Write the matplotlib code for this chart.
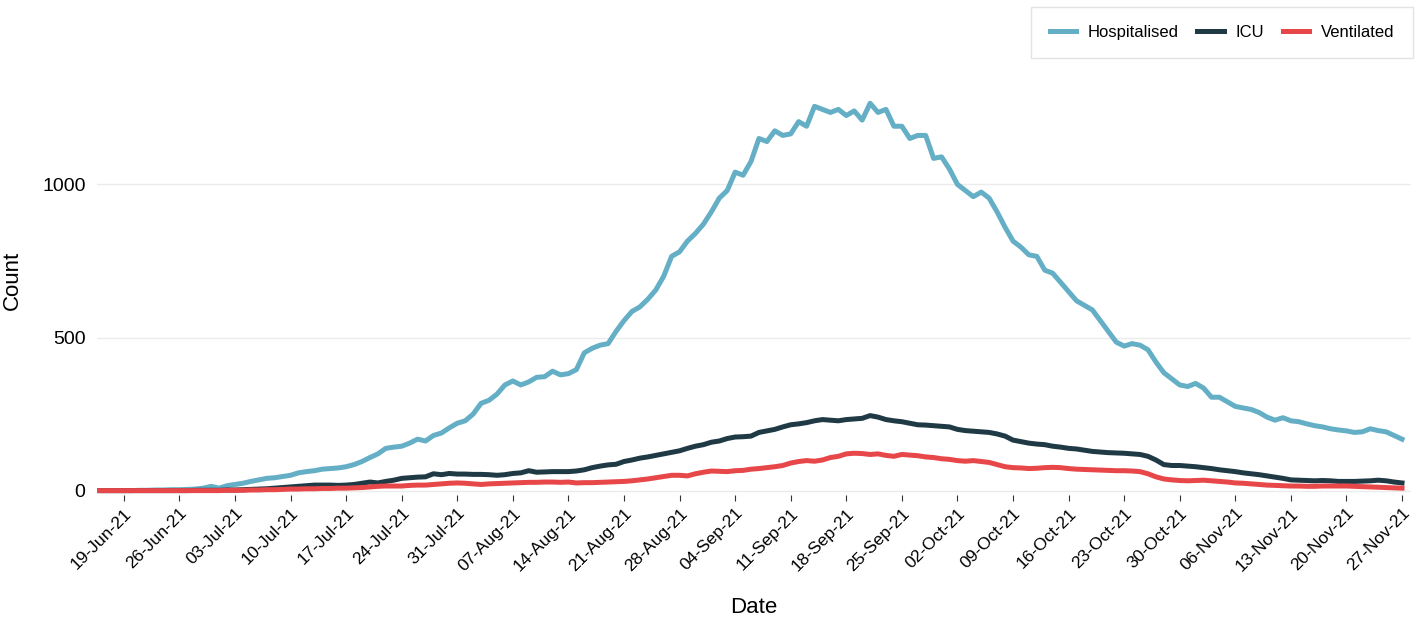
import matplotlib
matplotlib.use("Agg")
import matplotlib.pyplot as plt
import matplotlib.dates as mdates
import numpy as np
import pandas as pd

plt.rcParams['font.family'] = ['Liberation Sans', 'DejaVu Sans']

dates = pd.date_range("2021-06-16", "2021-11-27", freq="D")

hospitalised = [
    0, 0, 0,
    0, 0, 1, 1, 2, 2, 3,
    3, 4, 5, 8, 14, 8, 16,
    20, 24, 30, 35, 40, 42, 46,
    50, 58, 62, 65, 70, 72, 74,
    78, 85, 95, 108, 120, 138, 142,
    145, 155, 168, 162, 180, 188, 205,
    220, 228, 250, 285, 295, 315, 345,
    358, 345, 355, 370, 372, 390, 378,
    382, 395, 450, 465, 475, 480, 520,
    555, 585, 600, 625, 655, 700, 765,
    780, 815, 840, 870, 910, 955, 980,
    1040, 1030, 1075, 1150, 1140, 1175, 1160,
    1165, 1205, 1190, 1255, 1245, 1235, 1245,
    1225, 1240, 1210, 1265, 1235, 1245, 1190,
    1190, 1150, 1160, 1160, 1085, 1090, 1050,
    1000, 980, 960, 975, 955, 910, 860,
    815, 795, 770, 765, 720, 710, 680,
    650, 620, 605, 590, 555, 520, 485,
    472, 480, 475, 460, 420, 385, 365,
    345, 340, 350, 335, 305, 305, 290,
    275, 270, 265, 255, 240, 230, 238,
    228, 225, 218, 212, 208, 202, 198,
    195, 190, 192, 202, 196, 192, 180,
    168,
]

icu = [
    0, 0, 0,
    0, 0, 0, 0, 0, 0, 0,
    0, 0, 1, 1, 1, 1, 2,
    2, 3, 4, 5, 6, 8, 10,
    12, 14, 16, 18, 18, 18, 17,
    18, 20, 24, 28, 25, 30, 34,
    40, 42, 44, 45, 55, 52, 56,
    54, 54, 53, 53, 52, 50, 52,
    56, 58, 65, 60, 61, 62, 62,
    62, 64, 68, 75, 80, 84, 86,
    95, 100, 106, 110, 115, 120, 125,
    130, 138, 145, 150, 158, 162, 170,
    175, 176, 178, 190, 195, 200, 208,
    215, 218, 222, 228, 232, 230, 228,
    232, 234, 236, 245, 240, 232, 228,
    225, 220, 215, 214, 212, 210, 208,
    200, 196, 194, 192, 190, 185, 178,
    165, 160, 155, 152, 150, 145, 142,
    138, 136, 132, 128, 126, 124, 123,
    122, 120, 118, 112, 100, 85, 82,
    82, 80, 78, 75, 72, 68, 65,
    62, 58, 55, 52, 48, 44, 40,
    35, 34, 33, 32, 33, 32, 30,
    30, 30, 31, 32, 34, 32, 28,
    25,
]

ventilated = [
    0, 0, 0,
    0, 0, 0, 0, 0, 0, 0,
    0, 0, 0, 0, 0, 0, 1,
    1, 1, 2, 2, 3, 3, 4,
    5, 5, 6, 6, 7, 7, 8,
    8, 9, 10, 12, 14, 15, 15,
    15, 17, 18, 18, 20, 22, 24,
    25, 24, 22, 20, 22, 23, 24,
    25, 26, 27, 27, 28, 28, 27,
    28, 25, 26, 26, 27, 28, 29,
    30, 32, 35, 38, 42, 46, 50,
    50, 48, 55, 60, 64, 63, 62,
    65, 66, 70, 72, 75, 78, 82,
    90, 95, 98, 96, 100, 108, 112,
    120, 122, 121, 118, 120, 115, 112,
    118, 116, 114, 110, 108, 104, 102,
    98, 96, 98, 95, 92, 85, 78,
    75, 74, 72, 73, 75, 76, 75,
    72, 70, 69, 68, 67, 66, 65,
    65, 64, 62, 55, 45, 38, 35,
    33, 32, 33, 34, 32, 30, 28,
    25, 24, 22, 20, 18, 17, 16,
    15, 15, 14, 14, 15, 15, 15,
    15, 14, 13, 12, 11, 10, 9,
    8,
]

tick_dates = pd.date_range("2021-06-19", "2021-11-27", freq="7D")

fig = plt.figure(figsize=(14.22, 6.19), dpi=100)
ax = fig.add_axes([0.068, 0.2, 0.924, 0.695])

ax.plot(dates, hospitalised, color="#64AFC6", linewidth=3.6, label="Hospitalised")
ax.plot(dates, icu, color="#1F3A45", linewidth=3.6, label="ICU")
ax.plot(dates, ventilated, color="#E8474A", linewidth=3.6, label="Ventilated")

ax.set_xlim(pd.Timestamp("2021-06-15 14:00"), pd.Timestamp("2021-11-28 02:00"))
ax.set_ylim(-15, 1390)
ax.set_yticks([0, 500, 1000])
ax.set_xticks(tick_dates)
ax.xaxis.set_major_formatter(mdates.DateFormatter("%d-%b-%y"))
plt.setp(ax.get_xticklabels(), rotation=45, ha="right", rotation_mode="anchor")
ax.tick_params(axis="x", labelsize=12.5, length=4, color="#333333")
ax.tick_params(axis="y", labelsize=14, length=0, pad=8)

ax.grid(axis="y", color="#EBEBEB", linewidth=1)
ax.set_axisbelow(True)
for s in ax.spines.values():
    s.set_visible(False)

ax.set_xlabel("Date", fontsize=16, labelpad=17)
ax.set_ylabel("Count", fontsize=16, labelpad=14)

ax.legend(loc="upper right", bbox_to_anchor=(1.008, 1.155), ncol=3, frameon=True,
          fancybox=False, edgecolor="#DDDDDD", fontsize=12, handlelength=1.6,
          handletextpad=0.7, borderpad=1.1, columnspacing=1.1)

plt.savefig("out.png", dpi=100)
